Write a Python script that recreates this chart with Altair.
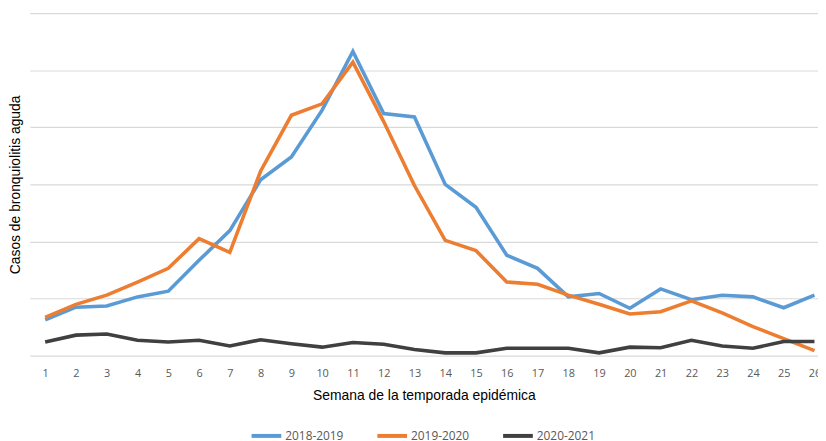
import altair as alt
import pandas as pd

weeks = list(range(1, 27))
series_names = ["2018-2019", "2019-2020", "2020-2021"]
s2018 = [6.3, 8.5, 8.7, 10.3, 11.3, 16.7, 21.9, 30.8, 34.8, 43.0, 53.3, 42.4, 41.8,
         30.0, 26.0, 17.6, 15.3, 10.3, 10.9, 8.3, 11.7, 9.8, 10.6, 10.3, 8.4, 10.6]
s2019 = [6.7, 9.0, 10.6, 12.9, 15.3, 20.5, 18.1, 32.3, 42.1, 44.1, 51.4, 41.0, 29.8,
         20.2, 18.4, 12.9, 12.5, 10.6, 9.0, 7.3, 7.7, 9.6, 7.5, 5.1, 3.0, 0.9]
s2020 = [2.4, 3.6, 3.8, 2.7, 2.4, 2.7, 1.7, 2.8, 2.1, 1.5, 2.3, 2.0, 1.1,
         0.5, 0.5, 1.3, 1.3, 1.3, 0.5, 1.5, 1.4, 2.7, 1.7, 1.3, 2.5, 2.5]
colors = ["#5B9BD5", "#ED7D31", "#404040"]

rows = []
for name, vals in zip(series_names, [s2018, s2019, s2020]):
    for w, v in zip(weeks, vals):
        rows.append({"semana": w, "casos": v, "temporada": name})
df = pd.DataFrame(rows)

chart = alt.Chart(df).mark_line(strokeWidth=3.6, clip=True, strokeJoin="miter").encode(
    x=alt.X("semana:Q",
            scale=alt.Scale(domain=[0.5, 26.114], nice=False, zero=False),
            axis=alt.Axis(values=weeks, format="d", grid=False, ticks=False, domain=False,
                          labelColor="#595959", labelFont="Open Sans", labelFontSize=11,
                          labelPadding=12, labelFlush=False,
                          title="Semana de la temporada epidémica", titleFont="Liberation Sans",
                          titleFontSize=14, titleFontWeight="normal", titleColor="#000000",
                          titlePadding=10)),
    y=alt.Y("casos:Q",
            scale=alt.Scale(domain=[0, 60], nice=False),
            axis=alt.Axis(values=[0, 10, 20, 30, 40, 50, 60], labels=False, ticks=False,
                          domain=False, grid=True, gridColor="#d9d9d9", gridWidth=1.2,
                          title="Casos de bronquiolitis aguda", titleFont="Liberation Sans",
                          titleFontSize=14, titleFontWeight="normal", titleColor="#000000",
                          titlePadding=7)),
    color=alt.Color("temporada:N",
                    scale=alt.Scale(domain=series_names, range=colors),
                    legend=alt.Legend(title=None, orient="none", direction="horizontal",
                                      legendX=222, legendY=410, symbolType="stroke",
                                      symbolStrokeWidth=4, symbolSize=900, columnPadding=26,
                                      labelFont="Open Sans", labelFontSize=12,
                                      labelColor="#595959", labelOffset=2)),
    order=alt.Order("temporada:N", sort="ascending"),
).properties(
    width=796, height=346,
    autosize=alt.AutoSizeParams(type="none"),
    padding={"left": 22, "top": 3, "right": 0, "bottom": 84},
).configure_view(stroke=None)

chart.save("out.html", embed_options={"renderer": "svg", "actions": False})
